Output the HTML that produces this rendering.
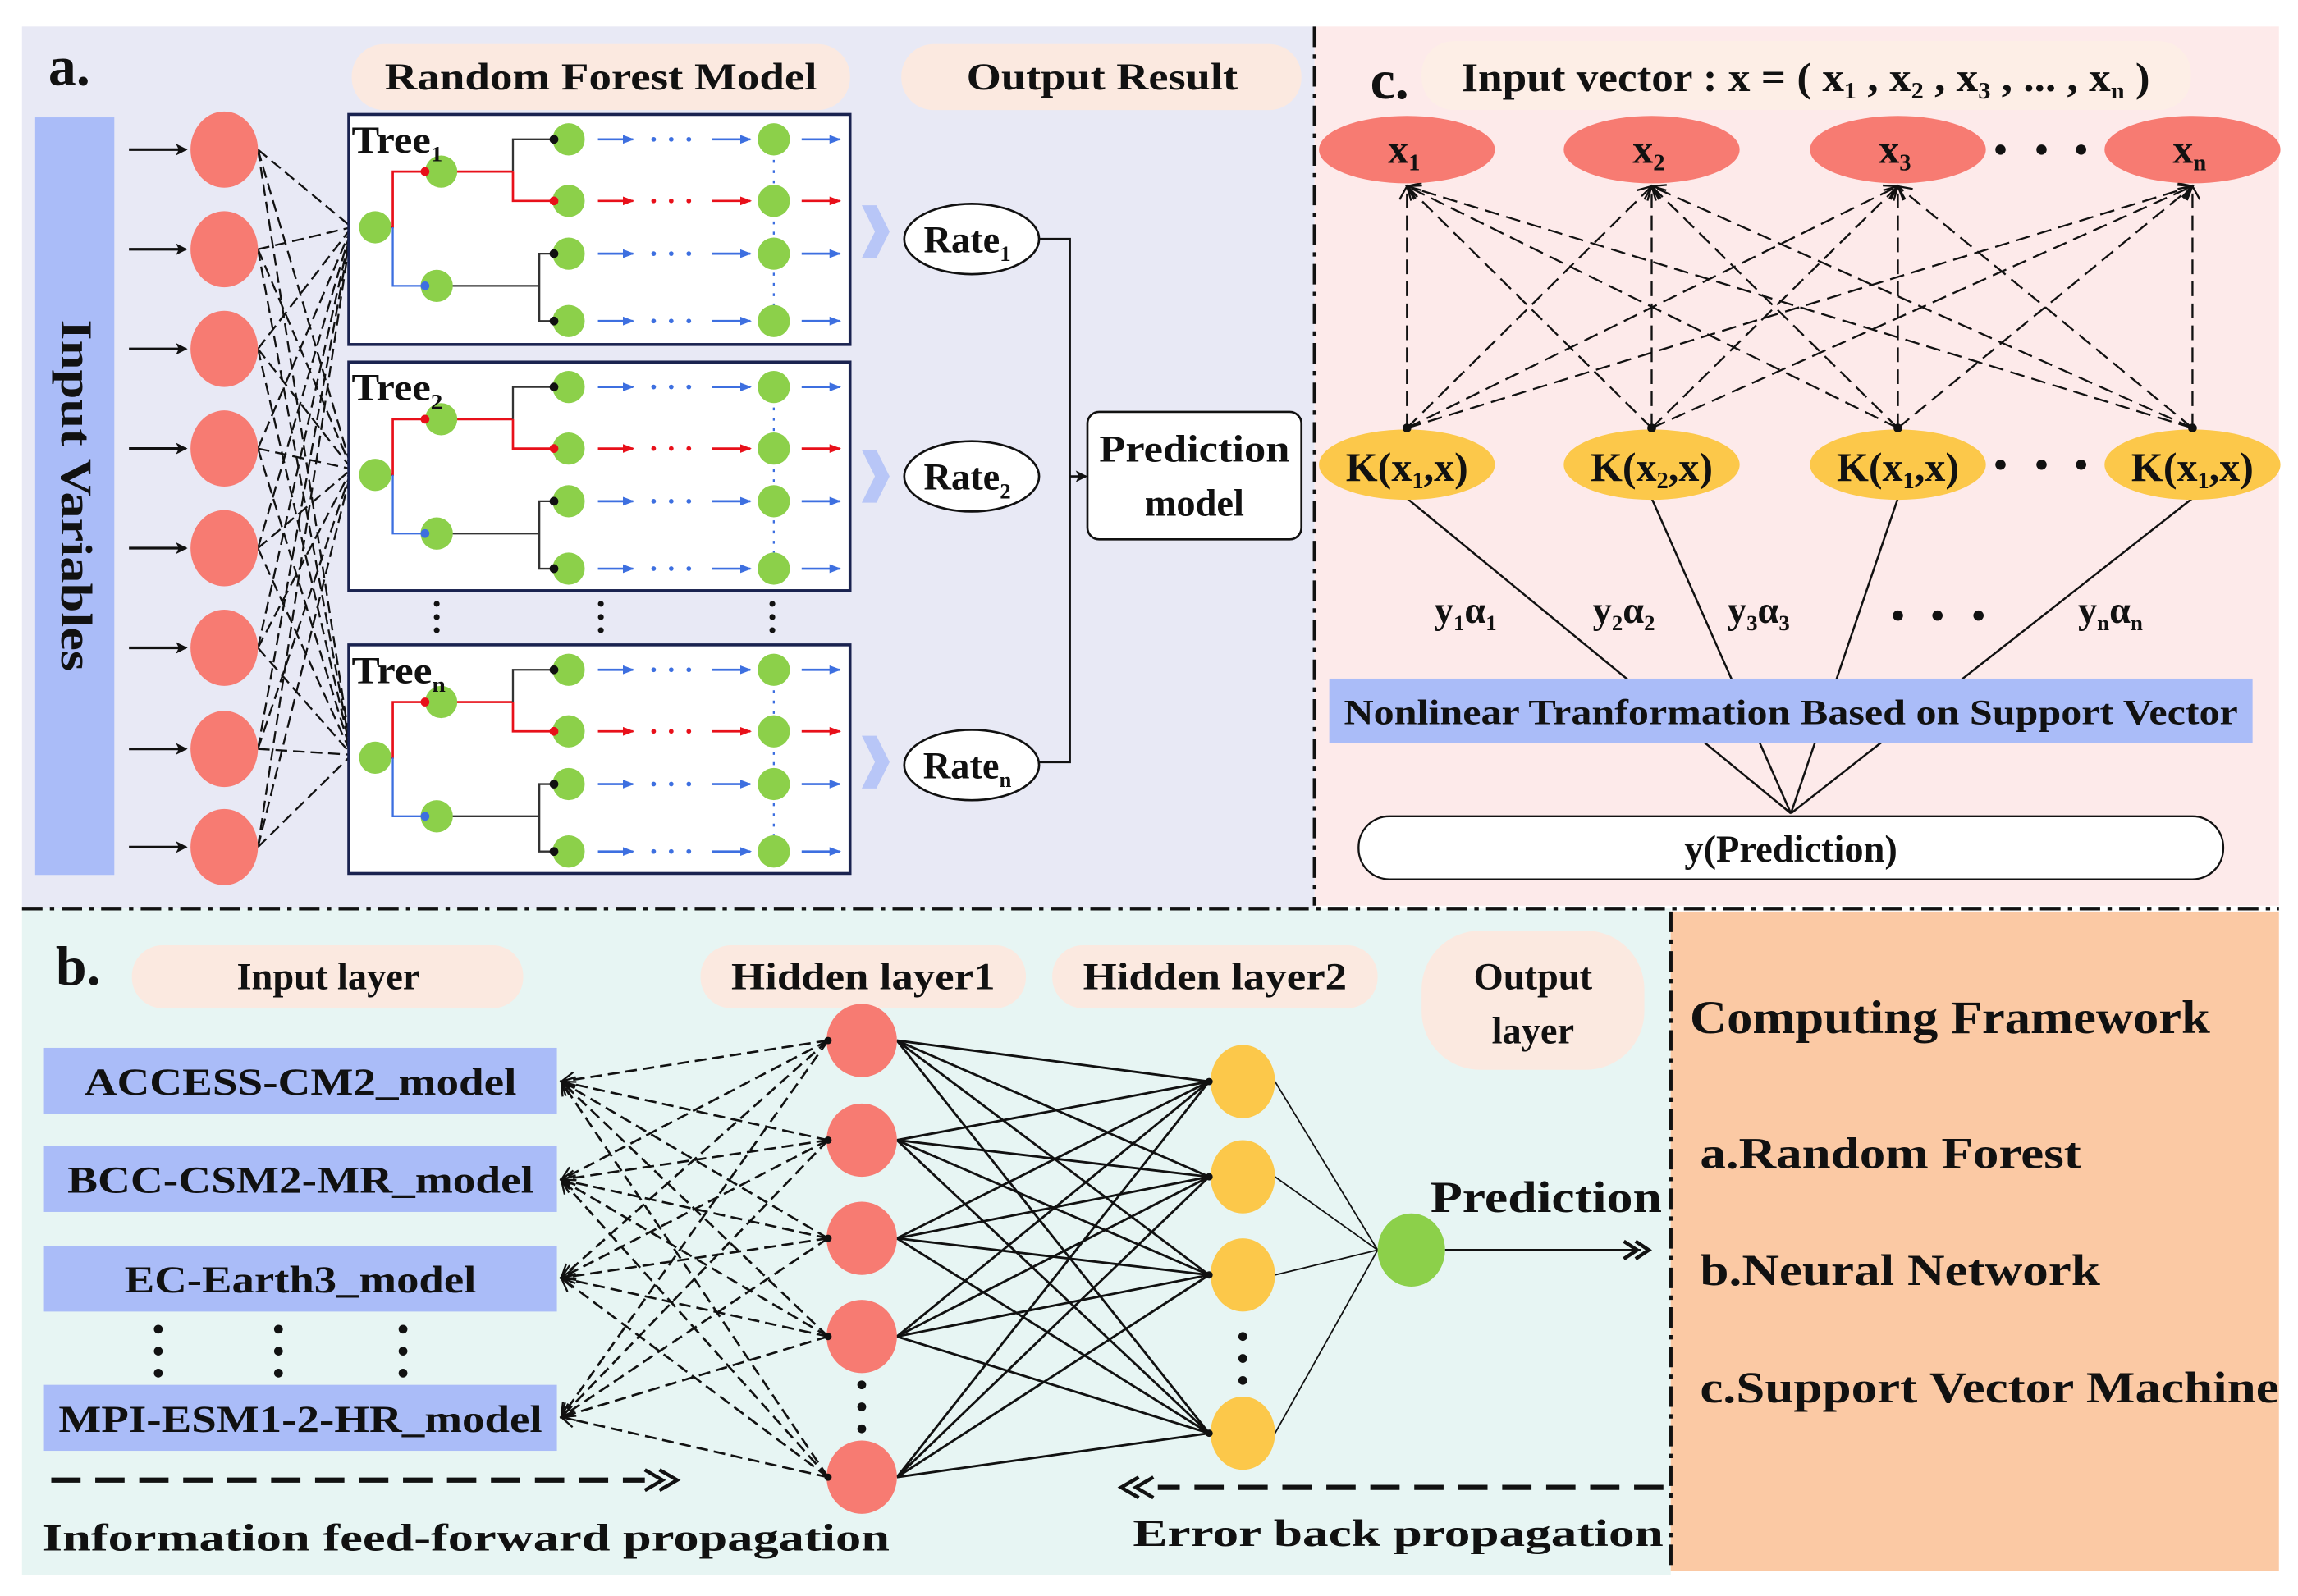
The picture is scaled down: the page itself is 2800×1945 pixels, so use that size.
<!DOCTYPE html>
<html><head><meta charset="utf-8">
<style>
html,body{margin:0;padding:0;background:#fff;}
svg{display:block;}
text{font-family:"Liberation Serif",serif;font-weight:bold;fill:#111;}
</style></head>
<body>
<svg id="s" xmlns="http://www.w3.org/2000/svg" width="2800" height="1945" viewBox="0 0 1568 1089">
<defs>
<marker id="ah" markerWidth="8" markerHeight="8" refX="7" refY="4" orient="auto" markerUnits="userSpaceOnUse"><path d="M0,0 L8,4 L0,8 L2,4z" fill="#111"/></marker>
<marker id="ahb" markerWidth="8" markerHeight="8" refX="7" refY="4" orient="auto" markerUnits="userSpaceOnUse"><path d="M0,1 L8,4 L0,7z" fill="#3d6fe0"/></marker>
<marker id="ahr" markerWidth="8" markerHeight="8" refX="7" refY="4" orient="auto" markerUnits="userSpaceOnUse"><path d="M0,1 L8,4 L0,7z" fill="#e8101a"/></marker>
<marker id="ao" markerWidth="12" markerHeight="12" refX="10" refY="6" orient="auto" markerUnits="userSpaceOnUse"><path d="M1,1 L10,6 L1,11" fill="none" stroke="#111" stroke-width="1.3"/></marker>
</defs>
<rect x="15" y="18" width="882" height="602" fill="#e8e9f5"/>
<rect x="897" y="18" width="658" height="600" fill="#fdeaea"/>
<rect x="15" y="620" width="1125" height="455" fill="#e7f5f3"/>
<rect x="1140" y="622" width="415" height="450" fill="#fbc9a4"/>
<g stroke="#111" stroke-width="2.5" stroke-dasharray="14,5,3,5" fill="none">
<line x1="15" y1="620" x2="1555" y2="620"/>
<line x1="897" y1="18" x2="897" y2="618"/>
<line x1="1140" y1="622" x2="1140" y2="1072"/>
</g>
<g id="dyn"></g>

<text x="33" y="58" font-size="38">a.</text>
<rect x="24" y="80" width="54" height="517" fill="#aabcf8"/>
<text transform="translate(42,338) rotate(90)" font-size="30" text-anchor="middle" textLength="240" lengthAdjust="spacingAndGlyphs">Input Variables</text>
<rect x="240" y="30" width="340" height="45" rx="22" fill="#fbe9e0"/>
<text x="410" y="61" font-size="26" text-anchor="middle" textLength="295" lengthAdjust="spacingAndGlyphs">Random Forest Model</text>
<rect x="615" y="30" width="273" height="45" rx="22" fill="#fbe9e0"/>
<text x="752" y="61" font-size="26" text-anchor="middle" textLength="185" lengthAdjust="spacingAndGlyphs">Output Result</text>
<g fill="#b8c6f7">
<path d="M588,140 L598,140 L607,158 L598,176 L588,176 L597,158z"/>
<path d="M588,307 L598,307 L607,325 L598,343 L588,343 L597,325z"/>
<path d="M588,502 L598,502 L607,520 L598,538 L588,538 L597,520z"/>
</g>
<g fill="#fff" stroke="#111" stroke-width="1.5">
<ellipse cx="663" cy="163" rx="46" ry="24"/>
<ellipse cx="663" cy="325" rx="46" ry="24"/>
<ellipse cx="663" cy="522" rx="46" ry="24"/>
<rect x="742" y="281" width="146" height="87" rx="8"/>
</g>
<g font-size="26" text-anchor="middle">
<text x="660" y="172">Rate<tspan font-size="15" dy="6">1</tspan></text>
<text x="660" y="334">Rate<tspan font-size="15" dy="6">2</tspan></text>
<text x="660" y="531">Rate<tspan font-size="15" dy="6">n</tspan></text>
<text x="815" y="315" textLength="130" lengthAdjust="spacingAndGlyphs">Prediction</text>
<text x="815" y="352">model</text>
</g>
<path d="M709,163 H730 V520 H709" fill="none" stroke="#111" stroke-width="1.5"/>
<line x1="730" y1="325" x2="741" y2="325" stroke="#111" stroke-width="1.5" marker-end="url(#ah)"/>

<text x="935" y="67" font-size="38">c.</text>
<rect x="970" y="28" width="525" height="47" rx="22" fill="#fdeee6"/>
<text x="1232" y="62" font-size="28" text-anchor="middle" textLength="470" lengthAdjust="spacingAndGlyphs">Input vector : x = ( x<tspan font-size="16" dy="5">1</tspan><tspan dy="-5"> , x</tspan><tspan font-size="16" dy="5">2</tspan><tspan dy="-5"> , x</tspan><tspan font-size="16" dy="5">3</tspan><tspan dy="-5"> , ... , x</tspan><tspan font-size="16" dy="5">n</tspan><tspan dy="-5"> )</tspan></text>
<g font-size="26" text-anchor="middle">
<text x="1000" y="425">y<tspan font-size="15" dy="5">1</tspan><tspan dy="-5">α</tspan><tspan font-size="15" dy="5">1</tspan></text>
<text x="1108" y="425">y<tspan font-size="15" dy="5">2</tspan><tspan dy="-5">α</tspan><tspan font-size="15" dy="5">2</tspan></text>
<text x="1200" y="425">y<tspan font-size="15" dy="5">3</tspan><tspan dy="-5">α</tspan><tspan font-size="15" dy="5">3</tspan></text>
<text x="1440" y="425">y<tspan font-size="15" dy="5">n</tspan><tspan dy="-5">α</tspan><tspan font-size="15" dy="5">n</tspan></text>
</g>
<g fill="#111"><circle cx="1295" cy="420" r="3.5"/><circle cx="1322" cy="420" r="3.5"/><circle cx="1350" cy="420" r="3.5"/>
<circle cx="1365" cy="102" r="3.5"/><circle cx="1393" cy="102" r="3.5"/><circle cx="1420" cy="102" r="3.5"/>
<circle cx="1365" cy="317" r="3.5"/><circle cx="1393" cy="317" r="3.5"/><circle cx="1420" cy="317" r="3.5"/></g>
<rect x="907" y="463" width="630" height="44" fill="#aabcf8"/>
<text x="1222" y="494" font-size="24" text-anchor="middle" textLength="610" lengthAdjust="spacingAndGlyphs">Nonlinear Tranformation Based on Support Vector</text>
<rect x="927" y="557" width="590" height="43" rx="21" fill="#fff" stroke="#111" stroke-width="1.3"/>
<text x="1222" y="588" font-size="26" text-anchor="middle">y(Prediction)</text>

<text x="38" y="672" font-size="38">b.</text>
<g fill="#fbe9e0">
<rect x="90" y="645" width="267" height="43" rx="21"/>
<rect x="478" y="645" width="222" height="43" rx="21"/>
<rect x="718" y="645" width="222" height="43" rx="21"/>
<rect x="970" y="635" width="152" height="95" rx="40"/>
</g>
<g font-size="26" text-anchor="middle">
<text x="224" y="675">Input layer</text>
<text x="589" y="675" textLength="180" lengthAdjust="spacingAndGlyphs">Hidden layer1</text>
<text x="829" y="675" textLength="180" lengthAdjust="spacingAndGlyphs">Hidden layer2</text>
<text x="1046" y="675">Output</text>
<text x="1046" y="712">layer</text>
</g>
<g fill="#aabcf8">
<rect x="30" y="715" width="350" height="45"/>
<rect x="30" y="782" width="350" height="45"/>
<rect x="30" y="850" width="350" height="45"/>
<rect x="30" y="945" width="350" height="45"/>
</g>
<g font-size="26" text-anchor="middle">
<text x="205" y="747" textLength="295" lengthAdjust="spacingAndGlyphs">ACCESS-CM2_model</text>
<text x="205" y="814" textLength="318" lengthAdjust="spacingAndGlyphs">BCC-CSM2-MR_model</text>
<text x="205" y="882" textLength="240" lengthAdjust="spacingAndGlyphs">EC-Earth3_model</text>
<text x="205" y="977" textLength="330" lengthAdjust="spacingAndGlyphs">MPI-ESM1-2-HR_model</text>
<text x="1055" y="827" font-size="30" textLength="158" lengthAdjust="spacingAndGlyphs">Prediction</text>
<text x="318" y="1058" textLength="578" lengthAdjust="spacingAndGlyphs">Information feed-forward propagation</text>
<text x="954" y="1055" textLength="362" lengthAdjust="spacingAndGlyphs">Error back propagation</text>
</g>
<g stroke="#111" stroke-width="3.5" stroke-dasharray="20,10" fill="none">
<line x1="35" y1="1010" x2="440" y2="1010"/>
<line x1="1135" y1="1015" x2="790" y2="1015"/>
</g>
<g fill="none" stroke="#111" stroke-width="2.5">
<path d="M440,1003 L452,1010 L440,1017 M450,1003 L462,1010 L450,1017"/>
<path d="M787,1008 L775,1015 L787,1022 M777,1008 L765,1015 L777,1022"/>
<path d="M1108,847 L1117,853 L1108,859 M1116,847 L1125,853 L1116,859"/>
</g>
<line x1="986" y1="853" x2="1120" y2="853" stroke="#111" stroke-width="1.5"/>
<g fill="#111">
<circle cx="108" cy="907" r="3"/><circle cx="108" cy="922" r="3"/><circle cx="108" cy="937" r="3"/>
<circle cx="190" cy="907" r="3"/><circle cx="190" cy="922" r="3"/><circle cx="190" cy="937" r="3"/>
<circle cx="275" cy="907" r="3"/><circle cx="275" cy="922" r="3"/><circle cx="275" cy="937" r="3"/>
<circle cx="588" cy="945" r="3"/><circle cx="588" cy="960" r="3"/><circle cx="588" cy="975" r="3"/>
<circle cx="848" cy="912" r="3"/><circle cx="848" cy="927" r="3"/><circle cx="848" cy="942" r="3"/>
<circle cx="298" cy="412" r="2"/><circle cx="298" cy="421" r="2"/><circle cx="298" cy="430" r="2"/>
<circle cx="410" cy="412" r="2"/><circle cx="410" cy="421" r="2"/><circle cx="410" cy="430" r="2"/>
<circle cx="527" cy="412" r="2"/><circle cx="527" cy="421" r="2"/><circle cx="527" cy="430" r="2"/>
</g>
<text x="1153" y="705" font-size="32" textLength="355" lengthAdjust="spacingAndGlyphs">Computing Framework</text>
<g font-size="30">
<text x="1160" y="797" textLength="260" lengthAdjust="spacingAndGlyphs">a.Random Forest</text>
<text x="1160" y="877" textLength="273" lengthAdjust="spacingAndGlyphs">b.Neural Network</text>
<text x="1160" y="957" textLength="395" lengthAdjust="spacingAndGlyphs">c.Support Vector Machine</text>
</g>
<g id="top"></g>
<g font-size="26">
<text x="240" y="104" textLength="62" lengthAdjust="spacingAndGlyphs">Tree<tspan font-size="15" dy="6">1</tspan></text>
<text x="240" y="273" textLength="62" lengthAdjust="spacingAndGlyphs">Tree<tspan font-size="15" dy="6">2</tspan></text>
<text x="240" y="466" textLength="64" lengthAdjust="spacingAndGlyphs">Tree<tspan font-size="15" dy="6">n</tspan></text>
</g>
</svg>
<script>
var NS="http://www.w3.org/2000/svg";
var dyn=document.getElementById('dyn'), top_=document.getElementById('top');
function el(p,t,a){var e=document.createElementNS(NS,t);for(var k in a)e.setAttribute(k,a[k]);p.appendChild(e);return e;}
function line(p,x1,y1,x2,y2,a){a=a||{};a.x1=x1;a.y1=y1;a.x2=x2;a.y2=y2;if(!a.stroke)a.stroke="#111";return el(p,'line',a);}
var ys=[102,170,238,306,374,442,511,578];
var roots=[155,320,515];
ys.forEach(function(y){
  line(dyn,88,y,127,y,{'stroke-width':1.8,'marker-end':'url(#ah)'});
  roots.forEach(function(r){line(dyn,176,y,240,r,{'stroke-width':1.3,'stroke-dasharray':'8,4'});});
});
ys.forEach(function(y){el(top_,'ellipse',{cx:153,cy:y,rx:23,ry:26,fill:'#f77b72'});});
var boxes=[[78,235],[247,403],[440,596]];
boxes.forEach(function(b,i){
  el(top_,'rect',{x:238,y:b[0],width:342,height:b[1]-b[0],fill:'#fff',stroke:'#1a2350','stroke-width':2});
  var o=b[0]-78;
  var G=top_;
  var root=155+o, up=117+o, dn=195+o;
  var rows=[95+o,137+o,173+o,219+o];
  el(G,'path',{d:'M262,'+root+' H268 V'+up+' H290',fill:'none',stroke:'#e8101a','stroke-width':1.5});
  el(G,'path',{d:'M268,'+root+' V'+dn+' H290',fill:'none',stroke:'#3d6fe0','stroke-width':1.3});
  el(G,'path',{d:'M301,'+up+' H350',fill:'none',stroke:'#e8101a','stroke-width':1.5});
  el(G,'path',{d:'M350,'+up+' V'+rows[0]+' H378',fill:'none',stroke:'#333','stroke-width':1.3});
  el(G,'path',{d:'M350,'+up+' V'+rows[1]+' H378',fill:'none',stroke:'#e8101a','stroke-width':1.5});
  el(G,'path',{d:'M301,'+dn+' H368 V'+rows[2]+' H378 M368,'+dn+' V'+rows[3]+' H378',fill:'none',stroke:'#333','stroke-width':1.3});
  line(G,528,rows[0],528,rows[3],{stroke:'#3d6fe0','stroke-width':1.3,'stroke-dasharray':'2,5'});
  el(G,'circle',{cx:256,cy:root,r:11,fill:'#8cd04a'});
  el(G,'circle',{cx:301,cy:up,r:11,fill:'#8cd04a'});
  el(G,'circle',{cx:298,cy:dn,r:11,fill:'#8cd04a'});
  el(G,'circle',{cx:290,cy:up,r:3,fill:'#e8101a'});
  el(G,'circle',{cx:290,cy:dn,r:3,fill:'#3d6fe0'});
  rows.forEach(function(y,j){
    var red=(j==1), col=red?'#e8101a':'#3d6fe0', m=red?'url(#ahr)':'url(#ahb)';
    line(G,408,y,432,y,{stroke:col,'stroke-width':1.5,'marker-end':m});
    [446,458,470].forEach(function(x){el(G,'circle',{cx:x,cy:y,r:1.6,fill:col});});
    line(G,486,y,512,y,{stroke:col,'stroke-width':1.5,'marker-end':m});
    line(G,547,y,573,y,{stroke:col,'stroke-width':1.5,'marker-end':m});
    el(G,'circle',{cx:388,cy:y,r:11,fill:'#8cd04a'});
    el(G,'circle',{cx:528,cy:y,r:11,fill:'#8cd04a'});
    el(G,'circle',{cx:378,cy:y,r:3,fill:red?'#e8101a':'#111'});
  });
});
var xs=[960,1127,1295,1496];
xs.forEach(function(kx){xs.forEach(function(xx){
  line(dyn,kx,292,xx,127,{'stroke-width':1.3,'stroke-dasharray':'10,5','marker-end':'url(#ao)'});
});});
xs.forEach(function(x){line(dyn,x,340,1222,555,{'stroke-width':1.4});});
var sub=['1','2','3','n'], ks=['1','2','1','1'];
xs.forEach(function(x,i){
  el(top_,'ellipse',{cx:x,cy:102,rx:60,ry:23,fill:'#f77b72'});
  var t=el(top_,'text',{x:x-2,y:111,'font-size':28,'text-anchor':'middle'});
  t.innerHTML='x<tspan font-size="16" dy="5">'+sub[i]+'</tspan>';
  el(top_,'ellipse',{cx:x,cy:317,rx:60,ry:24,fill:'#fcc84a'});
  var t2=el(top_,'text',{x:x,y:328,'font-size':28,'text-anchor':'middle'});
  t2.innerHTML='K(x<tspan font-size="16" dy="5">'+ks[i]+'</tspan><tspan dy="-5">,x)</tspan>';
  el(top_,'circle',{cx:x,cy:292,r:3,fill:'#111'});
});
var by=[738,805,872,967];
var h1=[710,778,845,912,1008];
var h2=[738,803,870,978];
h1.forEach(function(hy){by.forEach(function(b){
  line(dyn,565,hy,383,b,{'stroke-width':1.5,'stroke-dasharray':'8,4','marker-end':'url(#ao)'});
});});
h1.forEach(function(a){h2.forEach(function(b){line(dyn,612,a,825,b,{'stroke-width':1.6});});});
h2.forEach(function(b){line(dyn,870,b,940,853,{'stroke-width':1});});
h1.forEach(function(y){el(top_,'ellipse',{cx:588,cy:y,rx:24,ry:25,fill:'#f77b72'});el(top_,'circle',{cx:565,cy:y,r:2.5,fill:'#111'});});
h2.forEach(function(y){el(top_,'ellipse',{cx:848,cy:y,rx:22,ry:25,fill:'#fcc84a'});el(top_,'circle',{cx:825,cy:y,r:2.5,fill:'#111'});});
el(top_,'ellipse',{cx:963,cy:853,rx:23,ry:25,fill:'#8cd04a'});
</script>
</body></html>
